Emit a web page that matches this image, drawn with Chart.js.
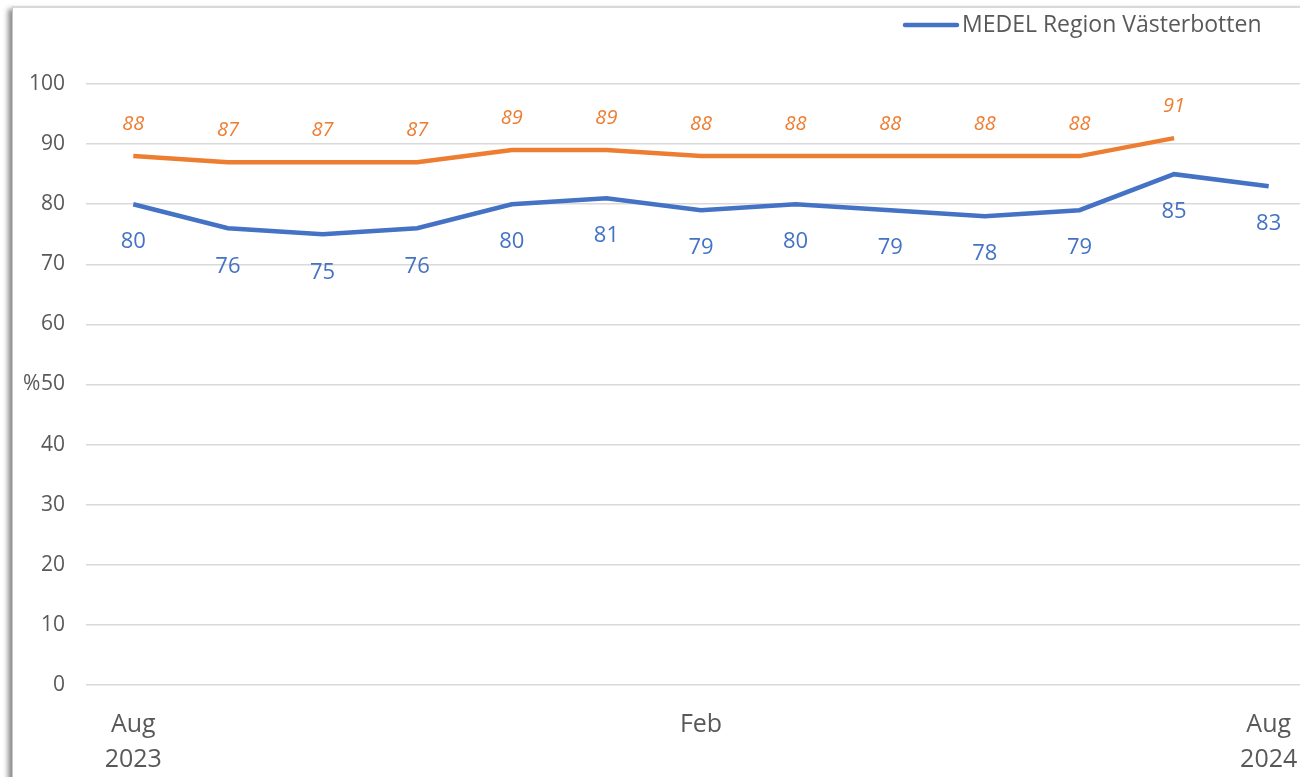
<!DOCTYPE html>
<html>
<head>
<meta charset="utf-8">
<script src="https://cdn.jsdelivr.net/npm/chart.js@4.4.1/dist/chart.umd.min.js"></script>
<style>
  html, body { margin: 0; padding: 0; background: #fff; overflow: hidden; width: 1300px; height: 777px; }
  #ram {
    position: absolute; left: 12px; top: 6px; width: 1400px; height: 900px;
    border-left: 1px solid #c8c8c8; border-top: 2px solid #d9d9d9;
    box-shadow: -4px 3px 5px rgba(0,0,0,0.45);
    background: #fff;
  }
  #wrap { position: absolute; left: 0; top: 0; width: 1320px; height: 777px; }
</style>
</head>
<body>
<div id="ram"></div>
<div id="wrap"><canvas id="grafico"></canvas></div>
<script>
// månader aug 2023 - aug 2024
const manader = [['Aug', '2023'], '', '', '', '', '', 'Feb', '', '', '', '', '', ['Aug', '2024']];
const medelRegion = [80, 76, 75, 76, 80, 81, 79, 80, 79, 78, 79, 85, 83];
const malvarde = [88, 87, 87, 87, 89, 89, 88, 88, 88, 88, 88, 91, null];
const yTicks = [0, 10, 20, 30, 40, 50, 60, 70, 80, 90, 100];

const BLA = '#4472C4';
const ORANGE = '#ED7D31';
const GRA = '#595959';
const FONT = "'Open Sans', sans-serif";

// etiketter vid punkterna + legend + %-titel
const etiketter = {
  id: 'etiketter',
  afterDatasetsDraw(chart) {
    const ctx = chart.ctx;
    ctx.save();
    ctx.textAlign = 'center';
    ctx.textBaseline = 'middle';

    chart.getDatasetMeta(0).data.forEach((p, i) => {
      ctx.font = '22px ' + FONT;
      ctx.fillStyle = BLA;
      ctx.fillText(String(medelRegion[i]), p.x, p.y + 38);
    });
    chart.getDatasetMeta(1).data.forEach((p, i) => {
      if (malvarde[i] == null) return;
      ctx.font = 'italic 20px ' + FONT;
      ctx.fillStyle = ORANGE;
      ctx.fillText(String(malvarde[i]), p.x, p.y - 32);
    });

    // legend, bara blå serien
    ctx.strokeStyle = BLA;
    ctx.lineWidth = 4.5;
    ctx.lineCap = 'round';
    ctx.beginPath();
    ctx.moveTo(905, 25);
    ctx.lineTo(957, 25);
    ctx.stroke();
    ctx.font = '23px ' + FONT;
    ctx.fillStyle = GRA;
    ctx.textAlign = 'left';
    ctx.fillText('MEDEL Region Västerbotten', 962, 25);

    // y-titel
    const y50 = chart.scales.y.getPixelForValue(50);
    ctx.font = '21px ' + FONT;
    ctx.textAlign = 'left';
    ctx.fillText('%', 23, y50);
    ctx.restore();
  }
};

const ctx = document.getElementById('grafico');

new Chart(ctx, {
  type: 'line',
  data: {
    labels: manader,
    datasets: [
      {
        label: 'MEDEL Region Västerbotten',
        data: medelRegion,
        borderColor: BLA,
        borderWidth: 4.5,
        pointRadius: 0,
        tension: 0
      },
      {
        label: 'Målvärde',
        data: malvarde,
        borderColor: ORANGE,
        borderWidth: 4.5,
        pointRadius: 0,
        tension: 0
      }
    ]
  },
  options: {
    responsive: true,
    maintainAspectRatio: false,
    animation: false,
    layout: { padding: { top: 84, right: 4, left: 0, bottom: 0 } },
    plugins: {
      legend: { display: false },
      tooltip: { enabled: false }
    },
    scales: {
      x: {
        offset: true,
        grid: { display: false },
        border: { display: false },
        ticks: {
          autoSkip: false,
          maxRotation: 0,
          color: GRA,
          font: { family: FONT, size: 25, lineHeight: 1.4 },
          padding: 14
        },
        afterFit(s) { s.height = 92; }
      },
      y: {
        min: 0,
        max: 100,
        afterBuildTicks(s) { s.ticks = yTicks.map(v => ({ value: v })); },
        grid: { color: '#d9d9d9', lineWidth: 1.5, drawTicks: false },
        border: { display: false },
        ticks: {
          color: GRA,
          font: { family: FONT, size: 21 },
          padding: 21
        },
        afterFit(s) { s.width = 86; }
      }
    }
  },
  plugins: [etiketter]
});
</script>
</body>
</html>
